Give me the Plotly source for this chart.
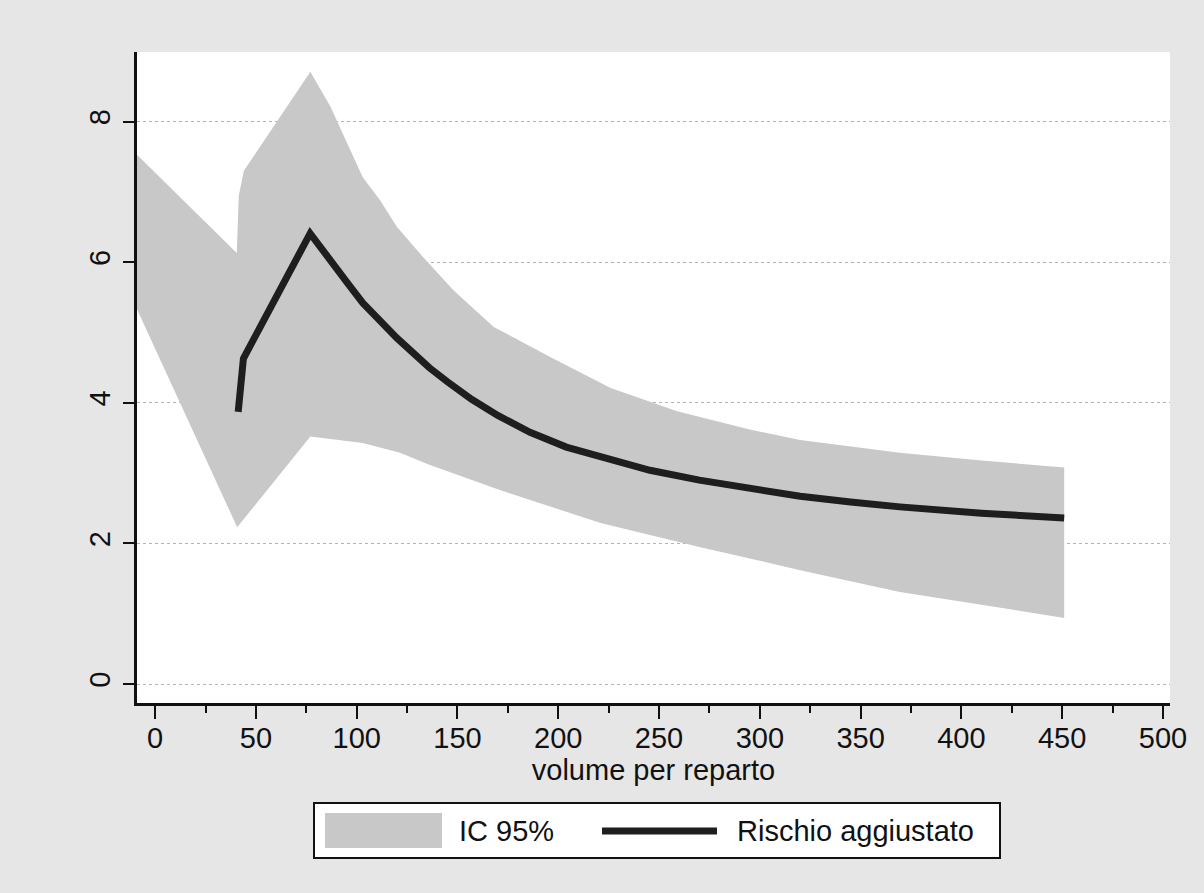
import plotly.graph_objects as go

# Upper boundary of the 95% CI band
ci_upper_x = [-9, 40.5, 41.5, 44, 77, 87, 103, 111.6, 120, 133, 148, 168, 196, 226, 259, 295, 320, 369.5, 410, 451]
ci_upper_y = [7.53, 6.13, 6.95, 7.30, 8.71, 8.21, 7.21, 6.88, 6.50, 6.07, 5.60, 5.08, 4.65, 4.21, 3.88, 3.62, 3.47, 3.29, 3.18, 3.08]

# Lower boundary of the 95% CI band
ci_lower_x = [-9, 40.7, 77, 103, 121.5, 136, 171, 221, 270, 295, 320, 369.5, 410, 451]
ci_lower_y = [5.33, 2.23, 3.52, 3.43, 3.29, 3.12, 2.76, 2.29, 1.95, 1.78, 1.62, 1.31, 1.13, 0.94]

# Adjusted risk line
risk_x = [41.2, 43.8, 76.9, 86, 95, 103, 111.6, 120, 128, 136, 145, 157, 170, 186, 204, 225, 245.5, 270, 295, 320, 345, 369.5, 410, 451]
risk_y = [3.87, 4.63, 6.41, 6.05, 5.72, 5.42, 5.15, 4.92, 4.71, 4.50, 4.30, 4.05, 3.82, 3.58, 3.37, 3.19, 3.04, 2.90, 2.78, 2.67, 2.59, 2.52, 2.43, 2.36]

x_ticks = [0, 50, 100, 150, 200, 250, 300, 350, 400, 450, 500]
y_ticks = [0, 2, 4, 6, 8]

legend_labels = ["IC 95%", "Rischio aggiustato"]

band_x = ci_upper_x + ci_lower_x[::-1]
band_y = ci_upper_y + ci_lower_y[::-1]

FONT = "Liberation Sans, Arial, sans-serif"
FS = 29
BAND = "#c8c8c8"
INK = "#111111"

fig = go.Figure()
fig.add_trace(go.Scatter(
    x=band_x, y=band_y, mode="lines", fill="toself",
    fillcolor=BAND, line=dict(width=0, color=BAND),
    name=legend_labels[0], hoverinfo="skip", showlegend=False,
))
fig.add_trace(go.Scatter(
    x=risk_x, y=risk_y, mode="lines",
    line=dict(color="#1e1e1e", width=7),
    name=legend_labels[1], showlegend=False,
))

# Custom legend (paper coordinates relative to plot area)
L, R, T, B = 137, 1170, 52, 703
W, H = R - L, B - T
def px(xp):
    return (xp - L) / W
def py(yp):
    return (B - yp) / H

shapes = [
    dict(type="rect", xref="paper", yref="paper",
         x0=px(314), x1=px(1000), y0=py(803), y1=py(858),
         line=dict(color=INK, width=2), fillcolor="#ffffff", layer="above"),
    dict(type="rect", xref="paper", yref="paper",
         x0=px(325), x1=px(442), y0=py(813), y1=py(848),
         line=dict(width=0), fillcolor=BAND, layer="above"),
    dict(type="line", xref="paper", yref="paper",
         x0=px(602), x1=px(717), y0=py(831), y1=py(831),
         line=dict(color="#1e1e1e", width=7), layer="above"),
]
annotations = [
    dict(text=legend_labels[0], xref="paper", yref="paper", x=px(457), y=py(831),
         xanchor="left", yanchor="middle", showarrow=False,
         font=dict(family=FONT, size=FS, color=INK)),
    dict(text=legend_labels[1], xref="paper", yref="paper", x=px(735), y=py(831),
         xanchor="left", yanchor="middle", showarrow=False,
         font=dict(family=FONT, size=FS, color=INK)),
]

fig.update_layout(
    width=1204, height=893,
    margin=dict(l=L, r=1204 - R, t=T, b=893 - B),
    paper_bgcolor="#e6e6e6",
    plot_bgcolor="#ffffff",
    font=dict(family=FONT, size=FS, color=INK),
    showlegend=False,
    shapes=shapes,
    annotations=annotations,
    xaxis=dict(
        range=[-9, 503.5],
        tickmode="array", tickvals=x_ticks,
        ticks="outside", ticklen=13, tickwidth=2, tickcolor=INK,
        ticklabelstandoff=-6,
        minor=dict(dtick=25, tick0=0, ticks="outside", ticklen=7, tickwidth=2, tickcolor=INK, showgrid=False),
        showline=True, linecolor=INK, linewidth=3,
        showgrid=False, zeroline=False,
        title=dict(text="volume per reparto", standoff=0, font=dict(size=FS)),
        tickfont=dict(size=FS),
    ),
    yaxis=dict(
        range=[-0.27, 8.99],
        tickmode="array", tickvals=y_ticks,
        tickangle=-90,
        ticks="outside", ticklen=11, tickwidth=2, tickcolor=INK,
        ticklabelstandoff=1,
        showline=True, linecolor=INK, linewidth=3,
        showgrid=True, gridcolor="#b4b4b4", gridwidth=1, griddash="dot",
        zeroline=False,
        tickfont=dict(size=FS),
    ),
)

fig.write_html("out.html")
